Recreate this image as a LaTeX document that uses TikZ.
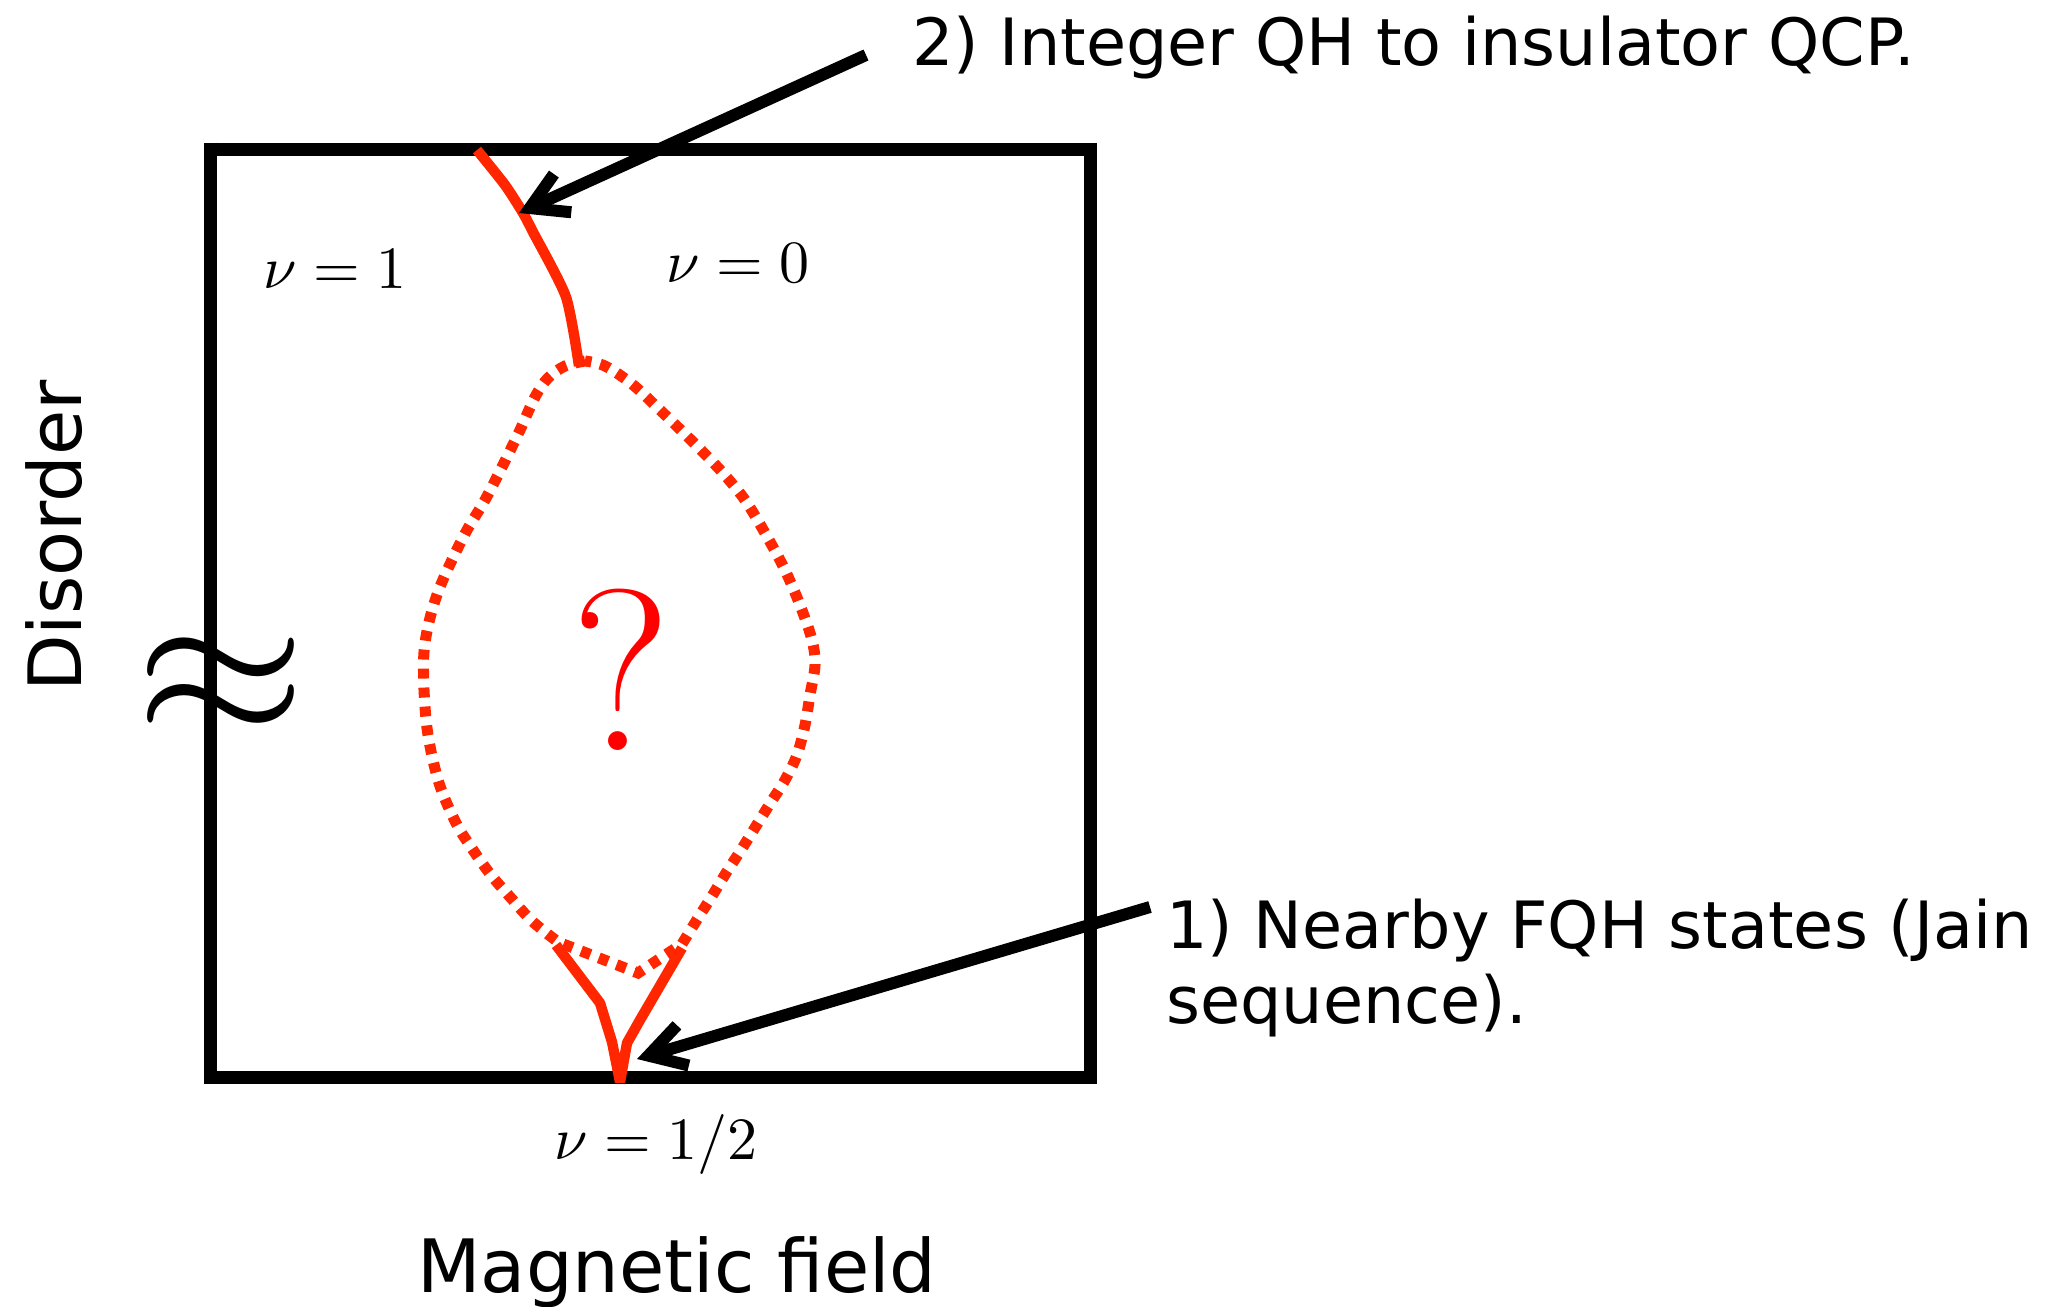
\documentclass[tikz,border=0pt]{standalone}
\usepackage{fontspec}
\newfontfamily\dvsans{DejaVu Sans}
\usetikzlibrary{arrows.meta}
\definecolor{redline}{RGB}{255,38,0}
\definecolor{qred}{RGB}{255,0,0}
\begin{document}
\begin{tikzpicture}[x={(0.5pt,0)},y={(0,-0.5pt)},
  hframe/.style={line width=6.5pt,black},
  vframe/.style={line width=6.5pt,black},
  phaseline/.style={draw=redline,line width=5.2pt},
  dotline/.style={draw=redline,line width=5.5pt,dash pattern=on 5pt off 4.5pt},
  pointer/.style={line width=6pt,-{Straight Barb[length=18pt,width=21pt]}},
  lbl/.style={font=\dvsans\fontsize{32.6pt}{38pt}\selectfont,inner sep=0pt},
  axlbl/.style={font=\dvsans\fontsize{36.8pt}{42pt}\selectfont,inner sep=0pt},
  mathlbl/.style={scale=3,inner sep=0pt}]
\useasboundingbox (0,0) rectangle (2066,1306);
% frame corners
\coordinate (tl) at (210,149);
\coordinate (tr) at (1090,149);
\coordinate (bl) at (210,1077);
\coordinate (br) at (1090,1077);
\draw[vframe] ([yshift=3.25pt]tl) -- ([yshift=-3.25pt]bl);
\draw[vframe] ([yshift=3.25pt]tr) -- ([yshift=-3.25pt]br);
\draw[hframe] ([xshift=-3pt]tl) -- ([xshift=3pt]tr);
\draw[hframe] ([xshift=-3pt]bl) -- ([xshift=3pt]br);
% axis break
\node[xscale=11,yscale=10,inner sep=0pt,anchor=base] (brk) at (221,734) {$\approx$};
% phase boundaries
\draw[phaseline,line join=round] plot[smooth,tension=0.4] coordinates {(477,150) (505,185) (523,213) (533,232) (566,297) (579,366)};
\draw[dotline] plot[smooth,tension=0.55] coordinates {(585,361) (565,366) (548,378) (535,397) (520,430) (503,465) (485,500) (467,530) (451,562) (438,592) (429,622) (424,652) (424,690) (428,735) (439,783) (456,823) (473,850) (491,875) (511,898) (532,921) (558,942)}
  -- (638,973) --
  plot[smooth,tension=0.55] coordinates {(682,944) (698,918) (712,896) (726,873) (741,850) (756,826) (771,802) (785,780) (797,755) (805,725) (810,695) (815,665) (812,640) (800,605) (784,568) (765,533) (745,500) (722,472) (694,443) (660,410) (632,384) (605,366) (585,361)};
\draw[phaseline,line join=bevel] (556,945) -- (600,1003) -- (612,1042) -- (620,1082) -- (627,1043) -- (640,1020) -- (682,948);
% question mark
\node[text=qred,font=\fontsize{115pt}{120pt}\selectfont,inner sep=0pt,anchor=base] (q) at (621,750) {?};
% filling labels
\node[mathlbl,anchor=base west] (n1) at (262,288) {$\nu=1$};
\node[mathlbl,anchor=base west] (n0) at (665,282) {$\nu=0$};
\node[mathlbl,anchor=base west] (nh) at (553,1159) {$\nu=1/2$};
% axis labels
\node[axlbl,anchor=base] (mf) at (677,1292) {Magnetic field};
\node[axlbl,rotate=90,anchor=base] (dis) at (81,536) {Disorder};
% annotations
\node[lbl,anchor=base west] (t2) at (912,65) {2) Integer QH to insulator QCP.};
\node[lbl,anchor=base west] (t1a) at (1166,948) {1) Nearby FQH states (Jain};
\node[lbl,anchor=base west] (t1b) at (1166,1023) {sequence).};
\coordinate (a2s) at (866,55);
\coordinate (qcp) at (519,213);
\coordinate (a1s) at (1150,907);
\coordinate (jain) at (637,1059);
\draw[pointer] (a2s) -- (qcp);
\draw[pointer] (a1s) -- (jain);
\end{tikzpicture}
\end{document}
